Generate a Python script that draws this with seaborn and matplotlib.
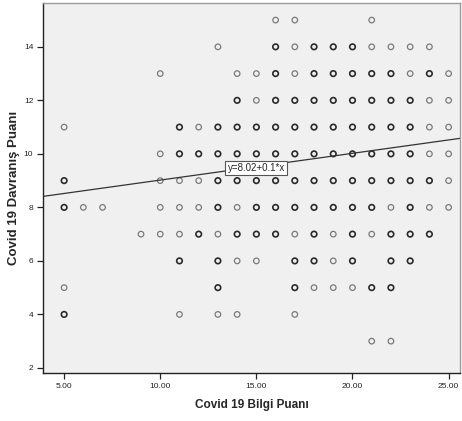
#!/usr/bin/env python3
"""Scatter of Covid 19 knowledge vs behaviour scores with fit line."""

import matplotlib

matplotlib.use("Agg")
import matplotlib.pyplot as plt
import matplotlib.ticker as ticker
import pandas as pd
import seaborn as sns

# One entry per y level; light = few cases, dark = many overlapping cases
ROW_Y = [15, 14, 13, 12, 11, 10, 9, 8, 7, 6, 5, 4, 3]
ROW_LIGHT_X = [
    [16, 17, 21],
    [13, 17, 21, 22, 23, 24],
    [10, 14, 15, 17, 23, 25],
    [15, 24, 25],
    [5, 12, 24, 25],
    [10, 24, 25],
    [10, 11, 12, 25],
    [6, 7, 10, 11, 12, 14, 22, 24, 25],
    [9, 10, 11, 13, 17, 19, 21],
    [14, 15, 19],
    [5, 18, 19, 20],
    [11, 13, 14, 17],
    [21, 22],
]
ROW_DARK_X = [
    [],
    [16, 18, 19, 20],
    [16, 18, 19, 20, 21, 22, 24],
    [14, 16, 17, 18, 19, 20, 21, 22, 23],
    [11, 13, 14, 15, 16, 17, 18, 19, 20, 21, 22, 23],
    [11, 12, 13, 14, 15, 16, 17, 18, 19, 20, 21, 22, 23],
    [5, 13, 14, 15, 16, 17, 18, 19, 20, 21, 22, 23, 24],
    [5, 13, 15, 16, 17, 18, 19, 20, 21, 23],
    [12, 14, 15, 16, 18, 20, 22, 23, 24],
    [11, 13, 17, 18, 20, 22, 23],
    [13, 17, 21, 22],
    [5],
    [],
]

INTERCEPT = 8.02
SLOPE = 0.1
FIT_LABEL = "y=8.02+0.1*x"

X_TICKS = [5, 10, 15, 20, 25]
Y_TICKS = [2, 4, 6, 8, 10, 12, 14]


def build_frame():
    rows = []
    for y, light, dark in zip(ROW_Y, ROW_LIGHT_X, ROW_DARK_X):
        rows += [{"x": x, "y": y, "level": "light"} for x in light]
        rows += [{"x": x, "y": y, "level": "dark"} for x in dark]
    return pd.DataFrame(rows)


def main():
    sns.set_style("white")
    plt.rcParams["font.family"] = ["Liberation Sans", "DejaVu Sans"]

    df = build_frame()

    fig = plt.figure(figsize=(4.62, 4.21), dpi=100)
    ax = fig.add_axes([0.093, 0.114, 0.903, 0.879])
    ax.set_facecolor("#F0F0F0")

    sns.scatterplot(
        data=df[df.level == "light"], x="x", y="y", marker="o", s=16,
        facecolors="none", edgecolor="#7a7a7a", linewidth=0.9, ax=ax,
    )
    sns.scatterplot(
        data=df[df.level == "dark"], x="x", y="y", marker="o", s=16,
        facecolors="none", edgecolor="#2a2a2a", linewidth=1.2, ax=ax,
    )

    ax.axline((0, INTERCEPT), slope=SLOPE, color="#333333", lw=0.9, zorder=1)
    ax.text(
        15.0, 9.47, FIT_LABEL, fontsize=7, ha="center", va="center",
        bbox=dict(boxstyle="square,pad=0.25", fc="white", ec="#555555", lw=0.8),
        zorder=5,
    )

    ax.set_xlim(3.9, 25.6)
    ax.set_ylim(1.81, 15.64)
    ax.set_xticks(X_TICKS)
    ax.set_yticks(Y_TICKS)
    ax.xaxis.set_major_formatter(ticker.FormatStrFormatter("%.2f"))
    ax.tick_params(bottom=True, left=True, direction="out", length=4, width=0.9,
                   labelsize=6, color="#222222", labelcolor="#222222", pad=3)

    for side in ("left", "bottom"):
        ax.spines[side].set_color("#222222")
        ax.spines[side].set_linewidth(1.0)
    for side in ("top", "right"):
        ax.spines[side].set_color("#9a9a9a")
        ax.spines[side].set_linewidth(1.0)

    ax.set_xlabel("Covid 19 Bilgi Puanı", fontsize=8.5, fontweight="bold", labelpad=7)
    ax.set_ylabel("Covid 19 Davranış Puanı", fontsize=9.5, fontweight="bold", labelpad=3)

    fig.savefig("out.png", dpi=100)
    plt.close(fig)


if __name__ == "__main__":
    main()
